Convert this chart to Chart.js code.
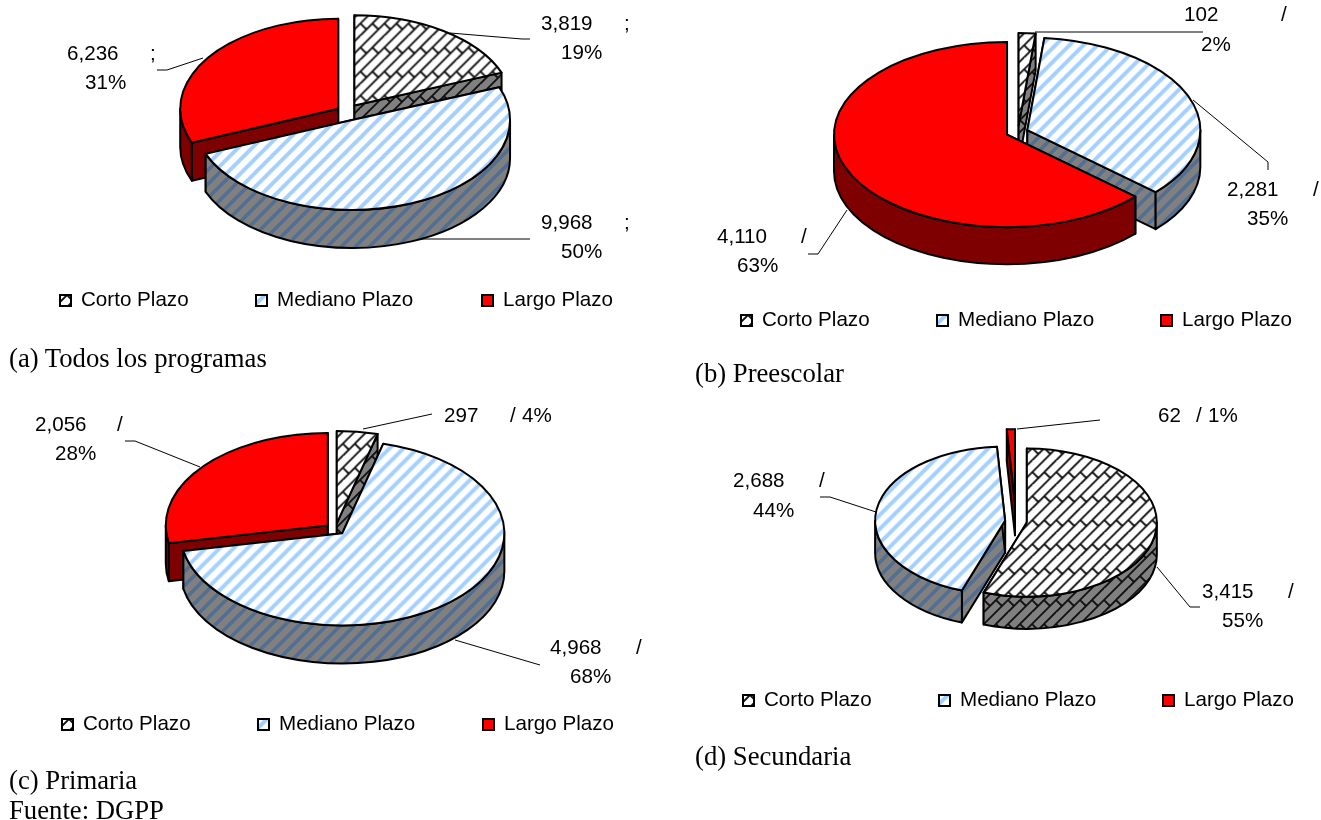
<!DOCTYPE html>
<html>
<head>
<meta charset="utf-8">
<script src="https://cdn.jsdelivr.net/npm/chart.js@4"></script>
<style>
html,body{margin:0;padding:0;background:#fff;overflow:hidden}
body{width:1321px;height:820px;position:relative}
canvas{position:absolute}
.cap{position:absolute;font:26.7px "Liberation Serif",serif;color:#000;white-space:nowrap;line-height:26px}
</style>
</head>
<body>
<canvas id="pieA" width="660" height="372" style="left:0;top:0"></canvas>
<canvas id="pieB" width="661" height="390" style="left:660px;top:0"></canvas>
<canvas id="pieC" width="660" height="448" style="left:0;top:372px"></canvas>
<canvas id="pieD" width="661" height="430" style="left:660px;top:390px"></canvas>
<div class="cap" style="left:9px;top:345px">(a) Todos los programas</div>
<div class="cap" style="left:695px;top:360px">(b) Preescolar</div>
<div class="cap" style="left:9px;top:767px">(c) Primaria</div>
<div class="cap" style="left:9px;top:797px">Fuente: DGPP</div>
<div class="cap" style="left:695px;top:743px">(d) Secundaria</div>
<script>
const categories=["Corto Plazo","Mediano Plazo","Largo Plazo"]
const valuesA=[3819,9968,6236]
const valuesB=[102,2281,4110]
const valuesC=[297,4968,2056]
const valuesD=[3415,2688,62]

const FONT='20.6px "Liberation Sans",Arial,sans-serif'

function brickTile(bg,line){
let c=document.createElement("canvas")
c.width=c.height=24
let g=c.getContext("2d")
g.fillStyle=bg
g.fillRect(0,0,24,24)
g.strokeStyle=line
g.lineWidth=1.8
g.beginPath()
for(let i=0;i<=4;i++){
let s=i*12
g.moveTo(0,s);g.lineTo(s,0)
g.moveTo(s,24);g.lineTo(24,s)
}
for(let ox=-24;ox<=24;ox+=24){
for(let oy=-24;oy<=24;oy+=24){
g.moveTo(ox,oy);g.lineTo(ox+6,oy+6)
g.moveTo(ox+12,oy);g.lineTo(ox+18,oy+6)
}
}
g.stroke()
return c
}

function stripeTile(bg,line,w){
let c=document.createElement("canvas")
c.width=c.height=14
let g=c.getContext("2d")
g.fillStyle=bg
g.fillRect(0,0,14,14)
g.strokeStyle=line
g.lineWidth=w
g.beginPath()
for(let s=-14;s<=42;s+=14){
g.moveTo(s-14,28);g.lineTo(s+28,-14)
}
g.stroke()
return c
}

const tiles={
top:[brickTile("#fff","#111"),stripeTile("#fff","#a3d0ff",4),"#ff0000"],
wall:[brickTile("#808080","#111"),stripeTile("#808080","#4f6f97",3.6),"#7f0000"]
}

function paint(ctx,tile,scaleY){
if(typeof tile==="string")return tile
let p=ctx.createPattern(tile,"repeat")
if(scaleY)p.setTransform(new DOMMatrix().scale(1,1/scaleY))
return p
}

function poly(ctx,fill,build){
ctx.beginPath()
build()
ctx.closePath()
ctx.fillStyle=fill
ctx.fill()
ctx.stroke()
}

function drawSlice(ctx,arc,i,L,walls){
let a1=arc.startAngle,a2=arc.endAngle,mid=(a1+a2)/2
let o=L.explode[i],R=arc.outerRadius,k=L.k,d=L.depth
let ex=L.cx+o*Math.cos(mid),ey=L.cy+k*o*Math.sin(mid)
ctx.lineWidth=2
ctx.lineJoin="round"
ctx.strokeStyle="#000"
let face=a=>poly(ctx,walls,()=>{
let px=ex+R*Math.cos(a),py=ey+k*R*Math.sin(a)
ctx.moveTo(ex,ey);ctx.lineTo(px,py);ctx.lineTo(px,py+d);ctx.lineTo(ex,ey+d)
})
face(a1)
face(a2)
let from=Math.max(a1,0),to=Math.min(a2,Math.PI)
if(to>from){
poly(ctx,walls,()=>{
ctx.ellipse(ex,ey,R,k*R,0,from,to)
ctx.ellipse(ex,ey+d,R,k*R,0,to,from,true)
})
}
// the top surface is the library's own arc, flattened
ctx.save()
ctx.translate(ex,ey)
ctx.scale(1,k)
ctx.translate(-arc.x,-arc.y)
arc.draw(ctx)
ctx.restore()
ctx.beginPath()
ctx.moveTo(ex,ey)
ctx.ellipse(ex,ey,R,k*R,0,a1,a2)
ctx.closePath()
ctx.stroke()
}

function drawPie(id,values,sep,L){
let canvas=document.getElementById(id)
let ctx=canvas.getContext("2d")
let total=values.reduce((a,b)=>a+b,0)
new Chart(canvas,{
type:"pie",
data:{
labels:categories,
datasets:[{
data:values,
borderWidth:0,
backgroundColor:tiles.top.map(t=>paint(ctx,t,L.k))
}]
},
options:{
responsive:false,
animation:false,
radius:L.radius,
plugins:{legend:{display:false},tooltip:{enabled:false}},
events:[]
},
plugins:[{
id:"pie3d",
beforeDatasetDraw(chart){
let c=chart.ctx
let arcs=chart.getDatasetMeta(0).data
c.save()
c.translate(-L.ox,-L.oy)
c.strokeStyle="#000"
c.lineWidth=1
L.labels.forEach(l=>{
c.beginPath()
l.leader.forEach((p,n)=>n?c.lineTo(p[0],p[1]):c.moveTo(p[0],p[1]))
c.stroke()
})
L.order.forEach(i=>drawSlice(c,arcs[i],i,L,paint(c,tiles.wall[i])))
c.restore()
return false
},
afterDraw(chart){
let c=chart.ctx
c.save()
c.translate(-L.ox,-L.oy)
c.font=FONT
c.fillStyle="#000"
c.textBaseline="middle"
L.labels.forEach((l,i)=>{
c.fillText(values[i].toLocaleString("en-US"),l.num[0],l.num[1])
c.fillText(sep,l.sep,l.num[1])
c.fillText(Math.round(values[i]/total*100)+"%",l.pct[0],l.pct[1])
})
categories.forEach((name,i)=>{
let x=L.legend[i]
// swatch pattern is anchored to the swatch so a stripe always crosses it
c.save()
c.translate(x-5,L.legendY-5)
c.fillStyle=paint(c,tiles.top[i])
c.strokeStyle="#000"
c.lineWidth=2
c.fillRect(5,0,11,11)
c.strokeRect(5,0,11,11)
c.restore()
c.fillStyle="#000"
c.fillText(name,x+21,L.legendY)
})
c.restore()
}
}]
})
}

drawPie("pieA",valuesA,";",{
ox:0,oy:0,cx:346.5,cy:112,radius:158,k:0.57,depth:38,
explode:[14,15,10],order:[0,2,1],
legend:[60,256,482],legendY:300,
labels:[
{num:[541,24],sep:624,pct:[561,53],leader:[[450,33],[522,39],[530,39]]},
{num:[541,223],sep:624,pct:[561,252],leader:[[417,239],[530,239]]},
{num:[67,54],sep:150,pct:[85,83],leader:[[203,58],[167,70],[157,70]]}
]
})

drawPie("pieB",valuesB,"/",{
ox:660,oy:0,cx:1018,cy:132,radius:173,k:0.535,depth:37,
explode:[12,10,12],order:[0,1,2],
legend:[741,937,1161],legendY:320,
labels:[
{num:[1184,15],sep:1281,pct:[1201,45],leader:[[1035,32],[1203,32]]},
{num:[1227,190],sep:1313,pct:[1247,219],leader:[[1193,100],[1268,162],[1268,170]]},
{num:[717,237],sep:801,pct:[737,266],leader:[[847,210],[818,254],[808,254]]}
]
})

drawPie("pieC",valuesC,"/",{
ox:0,oy:372,cx:335.5,cy:529,radius:162,k:0.57,depth:38,
explode:[10,10,10],order:[0,2,1],
legend:[62,258,483],legendY:724,
labels:[
{num:[444,416],sep:510,pct:[522,416],leader:[[363,429],[432,414]]},
{num:[550,648],sep:636,pct:[570,677],leader:[[455,640],[540,665]]},
{num:[35,425],sep:117,pct:[55,454],leader:[[200,467],[135,441],[125,441]]}
]
})

drawPie("pieD",valuesD,"/",{
ox:660,oy:390,cx:1016,cy:521.5,radius:130,k:0.57,depth:32,
explode:[11,11,32],order:[2,1,0],
legend:[743,939,1163],legendY:700,
labels:[
{num:[1202,592],sep:1288,pct:[1222,621],leader:[[1157,567],[1190,607],[1200,607]]},
{num:[733,481],sep:819,pct:[753,511],leader:[[876,512],[830,497],[820,497]]},
{num:[1158,416],sep:1196,pct:[1208,416],leader:[[1017,429],[1100,420]]}
]
})
</script>
</body>
</html>
